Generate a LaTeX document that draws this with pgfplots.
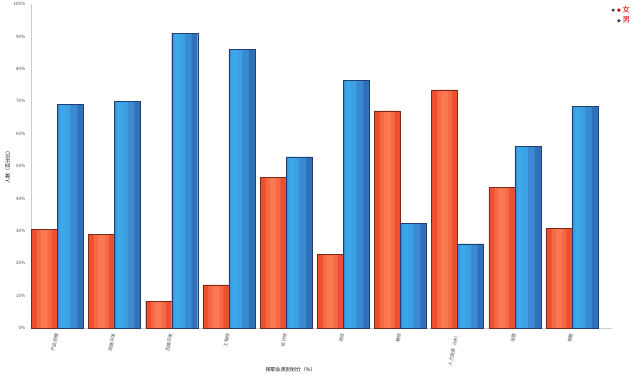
\documentclass[border=0pt]{standalone}
\usepackage{pgfplots}
\pgfplotsset{compat=1.18}
\usepackage{fontspec}
\setmainfont{Noto Sans CJK SC}
\definecolor{redB}{HTML}{EE4F2E}
\definecolor{redM}{HTML}{FF8A62}
\definecolor{redE}{HTML}{7A2A1A}
\definecolor{bluB}{HTML}{3A8AD2}
\definecolor{bluL}{HTML}{3EB4F2}
\definecolor{bluR}{HTML}{2A5FA8}
\definecolor{bluE}{HTML}{1E3F70}
\pgfplotstableread{
x f m
0 30.5 69
1 29 70
2 8.3 91
3 13.3 86
4 46.6 52.8
5 22.8 76.5
6 67 32.4
7 73.5 26
8 43.5 56
9 30.8 68.5
}\data
\begin{document}
\begin{tikzpicture}
\begin{axis}[
  scale only axis, width=581pt, height=324pt,
  ybar, bar width=0.455,
  xmin=-0.46, xmax=9.7, ymin=0, ymax=100,
  xtick=data,
  xticklabels={产品经理,前端开发,后端开发,工程师,设计师,测试,教师,人力资源（HR）,运营,销售},
  xticklabel style={rotate=78, anchor=east, font=\fontsize{4.5}{5}\selectfont, text=black!70},
  ytick={0,10,...,100},
  yticklabel={\pgfmathprintnumber{\tick}\%},
  yticklabel style={font=\fontsize{4.5}{5}\selectfont, text=black!70},
  /pgf/number format/assume math mode=true,
  axis lines=left, axis line style={black!20, -},
  tick style={draw=none},
  ylabel={人数（百分比）},
  ylabel style={font=\fontsize{5}{6}\selectfont, at={(axis description cs:-0.03,0.5)}},
  xlabel={按职业类别划分（\%）},
  xlabel style={font=\fontsize{5}{6}\selectfont, at={(axis description cs:0.447,0)}, yshift=-36pt},
  legend style={at={(1.035,1.0)}, anchor=north east, draw=none, fill=none, font=\fontsize{7.5}{7.5}\selectfont, inner sep=0pt, row sep=-1pt},
  legend cell align=left,
]
% female base
\addplot[fill=redB, draw=none, bar shift=-0.2275, legend image code/.code={\fill[black!80] (0.02cm,0) circle (1.6pt);\fill[red!80!black] (0.22cm,0) circle (1.8pt);}] table[x=x,y=f] {\data};
\addplot[fill=redM, draw=none, bar shift=-0.2275, bar width=0.26, opacity=0.45, forget plot] table[x=x,y=f] {\data};
\addplot[fill=redM, draw=none, bar shift=-0.2275, bar width=0.12, opacity=0.5, forget plot] table[x=x,y=f] {\data};
\addplot[fill=none, draw=redE, line width=0.3pt, bar shift=-0.2275, forget plot] table[x=x,y=f] {\data};
% male base
\addplot[fill=bluB, draw=none, bar shift=0.2275, legend image code/.code={\fill[bluE] (0.22cm,0) circle (1.8pt);}] table[x=x,y=m] {\data};
\addplot[fill=bluL, draw=none, bar shift=0.13, bar width=0.2, opacity=0.55, forget plot] table[x=x,y=m] {\data};
\addplot[fill=bluL, draw=none, bar shift=0.10, bar width=0.08, opacity=0.4, forget plot] table[x=x,y=m] {\data};
\addplot[fill=bluR, draw=none, bar shift=0.40, bar width=0.10, opacity=0.6, forget plot] table[x=x,y=m] {\data};
\addplot[fill=none, draw=bluE, line width=0.3pt, bar shift=0.2275, forget plot] table[x=x,y=m] {\data};
\legend{\textcolor{red!85!black}{女},\textcolor{red!85!black}{男}}
\end{axis}
\pgfresetboundingbox
\path ([xshift=-31pt,yshift=-61pt]current axis.south west) rectangle ([xshift=28pt,yshift=4pt]current axis.north east);
\end{tikzpicture}
\end{document}
